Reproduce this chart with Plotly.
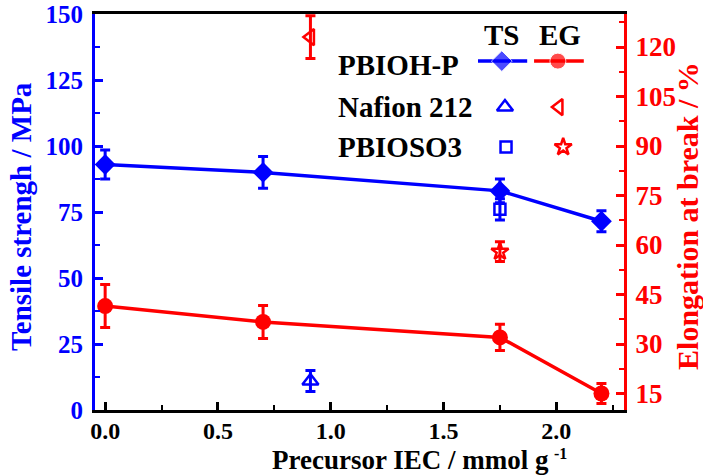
import plotly.graph_objects as go

# ---- data ----
iec = [0.0, 0.7, 1.75, 2.2]
ts_pbioh = [93, 90, 83, 71.5]
ts_pbioh_err = [5.5, 6, 4.5, 4]
eg_pbioh = [41.5, 36.7, 32, 15]
eg_pbioh_err = [6.5, 5, 4, 3]

nafion_iec = [0.91]
nafion_ts = [11]
nafion_ts_err = [4]
nafion_eg = [123]
nafion_eg_err = [6.5]

so3_iec = [1.75]
so3_ts = [76]
so3_ts_err = [4]
so3_eg = [58]
so3_eg_err = [3]

x_ticks = [0.0, 0.5, 1.0, 1.5, 2.0]
y1_ticks = [0, 25, 50, 75, 100, 125, 150]
y2_ticks = [15, 30, 45, 60, 75, 90, 105, 120]

BLUE = "#0000ff"
RED = "#ff0000"
FONT = "Liberation Serif"

fig = go.Figure()

def eb(arr, color):
    return dict(type="data", array=arr, color=color, thickness=3, width=5)

fig.add_trace(go.Scatter(x=iec, y=ts_pbioh, error_y=eb(ts_pbioh_err, BLUE),
                         mode="lines+markers", line=dict(color=BLUE, width=3.5),
                         marker=dict(symbol="diamond", size=16, color=BLUE),
                         showlegend=False))
fig.add_trace(go.Scatter(x=iec, y=eg_pbioh, error_y=eb(eg_pbioh_err, RED),
                         mode="lines+markers", line=dict(color=RED, width=3.5),
                         marker=dict(symbol="circle", size=16, color=RED),
                         yaxis="y2", showlegend=False))
fig.add_trace(go.Scatter(x=nafion_iec, y=nafion_ts, error_y=eb(nafion_ts_err, BLUE),
                         mode="markers",
                         marker=dict(symbol="triangle-up-open", size=14, color=BLUE,
                                     line=dict(width=2.5, color=BLUE)),
                         showlegend=False))
fig.add_trace(go.Scatter(x=nafion_iec, y=nafion_eg, error_y=eb(nafion_eg_err, RED),
                         mode="markers",
                         marker=dict(symbol="triangle-left-open", size=14, color=RED,
                                     line=dict(width=2.5, color=RED)),
                         yaxis="y2", showlegend=False))
fig.add_trace(go.Scatter(x=so3_iec, y=so3_ts, error_y=eb(so3_ts_err, BLUE),
                         mode="markers",
                         marker=dict(symbol="square-open", size=11, color=BLUE,
                                     line=dict(width=2.5, color=BLUE)),
                         showlegend=False))
fig.add_trace(go.Scatter(x=so3_iec, y=so3_eg, error_y=eb(so3_eg_err, RED),
                         mode="markers",
                         marker=dict(symbol="star-open", size=13, color=RED,
                                     line=dict(width=2.5, color=RED)),
                         yaxis="y2", showlegend=False))

# ---- custom two-column legend on an overlay axis ----
fig.add_trace(go.Scatter(x=[0.724, 0.769, 0.817], y=[0.881] * 3, xaxis="x3", yaxis="y3",
                         mode="lines+markers", line=dict(color=BLUE, width=3.5),
                         marker=dict(symbol="diamond", size=[0, 16, 0], color=BLUE),
                         showlegend=False, hoverinfo="skip"))
fig.add_trace(go.Scatter(x=[0.830, 0.875, 0.924], y=[0.881] * 3, xaxis="x3", yaxis="y3",
                         mode="lines+markers", line=dict(color=RED, width=3.5),
                         marker=dict(symbol="circle", size=[0, 16, 0], color=RED),
                         showlegend=False, hoverinfo="skip"))
fig.add_trace(go.Scatter(x=[0.775], y=[0.765], xaxis="x3", yaxis="y3", mode="markers",
                         marker=dict(symbol="triangle-up-open", size=14, color=BLUE,
                                     line=dict(width=2.5, color=BLUE)),
                         showlegend=False, hoverinfo="skip"))
fig.add_trace(go.Scatter(x=[0.877], y=[0.765], xaxis="x3", yaxis="y3", mode="markers",
                         marker=dict(symbol="triangle-left-open", size=14, color=RED,
                                     line=dict(width=2.5, color=RED)),
                         showlegend=False, hoverinfo="skip"))
fig.add_trace(go.Scatter(x=[0.777], y=[0.664], xaxis="x3", yaxis="y3", mode="markers",
                         marker=dict(symbol="square-open", size=11, color=BLUE,
                                     line=dict(width=2.5, color=BLUE)),
                         showlegend=False, hoverinfo="skip"))
fig.add_trace(go.Scatter(x=[0.885], y=[0.664], xaxis="x3", yaxis="y3", mode="markers",
                         marker=dict(symbol="star-open", size=13, color=RED,
                                     line=dict(width=2.5, color=RED)),
                         showlegend=False, hoverinfo="skip"))

annots = []
def txt(x, y, s, xanchor="left"):
    annots.append(dict(x=x, y=y, xref="x3", yref="y3", text=s, showarrow=False,
                       xanchor=xanchor, yanchor="middle",
                       font=dict(family=FONT, size=29, color="black")))
txt(0.769, 0.947, "<b>TS</b>", "center")
txt(0.879, 0.947, "<b>EG</b>", "center")
txt(0.455, 0.872, "<b>PBIOH-P</b>")
txt(0.455, 0.765, "<b>Nafion 212</b>")
txt(0.455, 0.664, "<b>PBIOSO3</b>")

# axis titles (x title split so the superscript sits beside "g")
annots.append(dict(x=0.862, y=-0.168, xref="paper", yref="paper", showarrow=False,
                   xanchor="right", yanchor="bottom",
                   text="<b>Precursor IEC / mmol g</b>",
                   font=dict(family=FONT, size=27, color="black")))
annots.append(dict(x=0.863, y=-0.1086, xref="paper", yref="paper", showarrow=False,
                   xanchor="left", yanchor="middle",
                   text="<b>-1</b>",
                   font=dict(family=FONT, size=16, color="black")))
annots.append(dict(x=-0.14, y=0.49, xref="paper", yref="paper", showarrow=False,
                   xanchor="center", yanchor="middle", textangle=-90,
                   text="<b>Tensile strengh / MPa</b>",
                   font=dict(family=FONT, size=29, color=BLUE)))
annots.append(dict(x=1.121, y=0.49, xref="paper", yref="paper", showarrow=False,
                   xanchor="center", yanchor="middle", textangle=-90,
                   text="<b>Elongation at break / %</b>",
                   font=dict(family=FONT, size=30, color=RED)))

fig.update_layout(
    width=703, height=476,
    margin=dict(l=95, r=79, t=14, b=66),
    plot_bgcolor="white", paper_bgcolor="white",
    font=dict(family=FONT),
    annotations=annots,
    xaxis=dict(range=[-0.045, 2.3], tickvals=x_ticks, automargin=False,
               ticktext=["<b>%.1f</b>" % v for v in x_ticks],
               tickfont=dict(family=FONT, size=24, color="black"), ticklabelstandoff=-3,
               ticks="inside", ticklen=8, tickwidth=2.5, tickcolor="black",
               minor=dict(dtick=0.25, tick0=0, ticks="inside", ticklen=5, tickwidth=2, tickcolor="black"),
               showline=True, linecolor="black", linewidth=3, mirror=True,
               showgrid=False, zeroline=False),
    yaxis=dict(range=[0, 150], tickvals=y1_ticks, automargin=False,
               ticktext=["<b>%d</b>" % v for v in y1_ticks],
               tickfont=dict(family=FONT, size=25, color=BLUE), ticklabelstandoff=4,
               ticks="inside", ticklen=8, tickwidth=2.5, tickcolor=BLUE,
               minor=dict(dtick=12.5, tick0=0, ticks="inside", ticklen=5, tickwidth=2, tickcolor=BLUE),
               showline=True, linecolor=BLUE, linewidth=3,
               showgrid=False, zeroline=False),
    yaxis2=dict(range=[10, 130], tickvals=y2_ticks, overlaying="y", side="right",
                automargin=False,
                ticktext=["<b>%d</b>" % v for v in y2_ticks],
                tickfont=dict(family=FONT, size=27, color=RED), ticklabelstandoff=3,
                ticks="inside", ticklen=8, tickwidth=2.5, tickcolor=RED,
                minor=dict(dtick=7.5, tick0=15, ticks="inside", ticklen=5, tickwidth=2, tickcolor=RED),
                showline=True, linecolor=RED, linewidth=3,
                showgrid=False, zeroline=False),
    xaxis3=dict(range=[0, 1], overlaying="x", visible=False, fixedrange=True, automargin=False),
    yaxis3=dict(range=[0, 1], overlaying="y", visible=False, fixedrange=True, automargin=False),
)

fig.write_html("out.html")
